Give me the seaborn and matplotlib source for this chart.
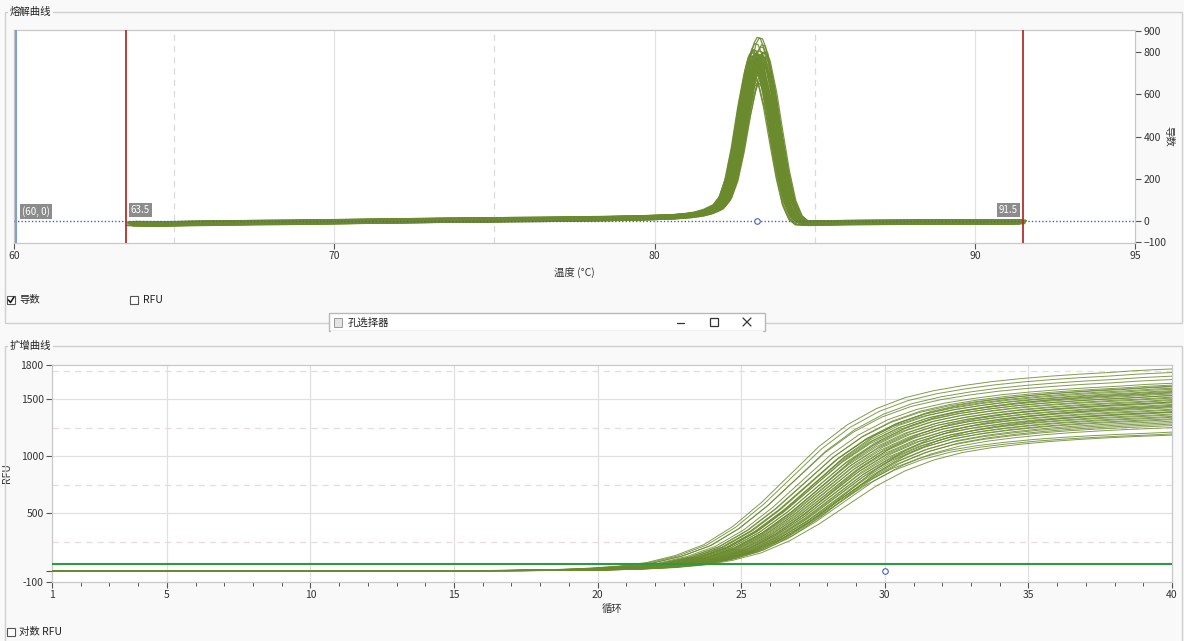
import numpy as np
import pandas as pd
import matplotlib.pyplot as plt
import seaborn as sns
from matplotlib.patches import Rectangle
from matplotlib.lines import Line2D

sns.set_theme(style='white')
plt.rcParams['font.family'] = ['Noto Sans CJK SC', 'DejaVu Sans']
plt.rcParams['font.size'] = 7.5

# 熔解曲线: 典型孔的导数曲线
melt_temp = [63.7, 64.5, 65.5, 66.5, 67.5, 68.5, 69.5, 70.5, 71.5, 72.5, 73.5, 74.5,
             75.5, 76.5, 77.5, 78.5, 79.5, 80.5, 81.0, 81.4, 81.7, 82.0, 82.2, 82.4,
             82.6, 82.8, 83.0, 83.1, 83.2, 83.3, 83.4, 83.6, 83.8, 84.0, 84.2, 84.4,
             84.6, 84.8, 85.2, 86.0, 87.0, 88.0, 89.0, 90.0, 91.0, 91.4]
melt_base = [-12, -14, -11, -9, -7, -6, -4, -2, 0, 2, 4, 5,
             7, 8, 10, 12, 15, 20, 26, 35, 48, 70, 110, 200,
             350, 540, 700, 760, 785, 780, 745, 600, 410, 230, 90, 18,
             -8, -10, -9, -7, -6, -5, -4, -4, -4, -4]

# 各孔峰高、Tm 偏移、基线偏移
melt_height = [880, 860, 845, 830, 820, 815, 810, 805, 800, 798, 795, 792,
               790, 788, 785, 782, 780, 778, 775, 772, 770, 768, 765, 762,
               760, 757, 755, 752, 750, 745, 740, 735, 730, 725, 720, 712,
               705, 698, 690, 680, 670, 660, 650, 800, 790, 780, 770, 760]
melt_shift = [0.0, 0.07, -0.07, 0.14, -0.14, 0.11, -0.11, 0.17, -0.17, 0.04, -0.04, 0.21,
              -0.21, 0.08, -0.08, 0.14, -0.14, 0.0, 0.06, -0.06, 0.18, -0.18, 0.1, -0.1,
              0.03, -0.03, 0.15, -0.15, 0.07, -0.07, 0.13, -0.13, 0.0, 0.2, -0.2, 0.08,
              -0.08, 0.04, -0.04, 0.14, -0.14, 0.07, 0.0, 0.17, -0.17, 0.11, -0.11, 0.01]
melt_offset = [-10, 8, -4, 5, -8, 10, 0, -6, 4, 9, -2, 6,
               -9, 1, 7, -5, 2, -10, 5, -1, 9, -7, 3, 0,
               -3, 6, -9, 2, 10, -6, 1, 7, -2, 5, -10, 3,
               0, -5, 8, -1, 6, -7, 2, -3, 7, -8, 1, 4]

# 扩增曲线: 归一化形状 (循环 -1..42)
amp_cycle = list(range(-1, 43))
amp_shape = [0] * 19 + [0.001, 0.003, 0.006, 0.012, 0.022, 0.04, 0.075, 0.13, 0.22,
                        0.34, 0.48, 0.62, 0.73, 0.81, 0.865, 0.9, 0.925, 0.945, 0.96,
                        0.972, 0.982, 0.99, 1.0, 1.007, 1.013]
amp_plateau = [1750, 1720, 1690, 1660, 1630, 1615, 1600, 1590, 1580, 1570, 1560, 1550,
               1540, 1530, 1525, 1515, 1505, 1495, 1485, 1475, 1465, 1455, 1445, 1435,
               1425, 1415, 1405, 1395, 1385, 1375, 1365, 1355, 1345, 1335, 1325, 1315,
               1300, 1290, 1275, 1260, 1215, 1200, 1195, 1400, 1450, 1560, 1610, 1480]
amp_shift = [-1.3, -1.2, -1.05, -1.1, -0.9, -0.75, -0.8, -0.6, -0.65, -0.5, -0.7, -0.45,
             -0.55, -0.35, -0.5, -0.25, -0.4, -0.15, -0.3, -0.1, -0.25, 0.0, -0.15, 0.05,
             -0.1, 0.15, 0.0, 0.2, 0.05, 0.3, 0.15, 0.35, 0.2, 0.4, 0.25, 0.5,
             0.35, 0.55, 0.4, 0.6, 0.2, 0.3, 0.7, 0.8, 0.75, -0.15, -0.4, 0.25]
threshold = 55

olive = '#6b8a2e'
W, H = 1184, 641

melt_rows = []
for i, (h, s, o) in enumerate(zip(melt_height, melt_shift, melt_offset)):
    for t, v in zip(melt_temp, melt_base):
        melt_rows.append((i, t + s, v * h / 785 + o))
melt_df = pd.DataFrame(melt_rows, columns=['well', 'temp', 'deriv'])

amp_rows = []
for i, (p, s) in enumerate(zip(amp_plateau, amp_shift)):
    for c, v in zip(amp_cycle, amp_shape):
        amp_rows.append((i, c + s, v * p))
amp_df = pd.DataFrame(amp_rows, columns=['well', 'cycle', 'rfu'])

fig = plt.figure(figsize=(W / 100, H / 100), dpi=100)
fig.patch.set_facecolor('#f9f9f9')


def box(x0, y0, x1, y1):
    return [x0 / W, 1 - y1 / H, (x1 - x0) / W, (y1 - y0) / H]


# ---------- 熔解曲线 ----------
ax1 = fig.add_axes(box(14, 30, 1135, 243))
ax1.set_facecolor('white')
for x in [70, 80, 90]:
    ax1.axvline(x, color='#e2e2e2', lw=0.9, zorder=0)
for x in [65, 75, 85]:
    ax1.axvline(x, color='#dadada', lw=0.9, ls=(0, (5, 4)), zorder=0)

sns.lineplot(data=melt_df, x='temp', y='deriv', units='well', estimator=None,
             color=olive, lw=0.9, alpha=0.9, legend=False, ax=ax1, zorder=3)

ax1.axhline(0, color='#4a5ec0', lw=1.0, ls=(0, (1, 1.5)), zorder=4)
ax1.axvline(60.05, color='#7f9fd8', lw=1.5, zorder=5)
for x in [63.5, 91.5]:
    ax1.axvline(x, color='#b3302c', lw=1.3, zorder=5)
ax1.plot([83.2], [0], marker='o', ms=4, mfc='white', mec='#4a5ec0', mew=0.8, zorder=6)

lbl = dict(color='white', fontsize=7, zorder=7,
           bbox=dict(boxstyle='square,pad=0.2', fc='#8c8c8c', ec='none'))
ax1.text(60.25, 20, '(60, 0)', ha='left', va='bottom', **lbl)
ax1.text(63.65, 28, '63.5', ha='left', va='bottom', **lbl)
ax1.text(91.35, 28, '91.5', ha='right', va='bottom', **lbl)

ax1.set_xlim(60, 95)
ax1.set_ylim(-104, 905)
ax1.set_xticks([60, 70, 80, 90, 95])
ax1.yaxis.tick_right()
ax1.yaxis.set_label_position('right')
ax1.set_yticks([900, 800, 600, 400, 200, 0, -100])
ax1.tick_params(axis='both', direction='out', length=4, width=0.8, color='#555555',
                labelsize=7.5, labelcolor='#333333', pad=2, bottom=True, right=True)
ax1.set_xlabel('温度 (°C)', fontsize=7.5, color='#333333', labelpad=4)
ax1.set_ylabel('导数', fontsize=7.5, color='#333333', rotation=270, labelpad=5)
for sp in ax1.spines.values():
    sp.set_color('#c8c8c8')
    sp.set_linewidth(0.9)

# ---------- 扩增曲线 ----------
ax2 = fig.add_axes(box(52, 365, 1172, 582))
ax2.set_facecolor('white')
for x in [5, 10, 15, 20, 25, 30, 35]:
    ax2.axvline(x, color='#e0e0e0', lw=0.9, zorder=0)
for y in [500, 1000, 1500]:
    ax2.axhline(y, color='#e0e0e0', lw=0.9, zorder=0)
for y in [250, 750, 1250, 1750]:
    ax2.axhline(y, color='#e6dcdc', lw=0.9, ls=(0, (5, 4)), zorder=0)

sns.lineplot(data=amp_df, x='cycle', y='rfu', units='well', estimator=None,
             color=olive, lw=0.7, alpha=0.85, legend=False, ax=ax2, zorder=3)
ax2.axhline(threshold, color='#2e9a40', lw=1.5, zorder=4)
ax2.plot([30], [0], marker='o', ms=4, mfc='white', mec='#4a5ec0', mew=0.8, zorder=6)

ax2.set_xlim(1, 40)
ax2.set_ylim(-100, 1800)
ax2.set_xticks([1, 5, 10, 15, 20, 25, 30, 35, 40])
ax2.set_xticks(range(1, 41), minor=True)
ax2.set_yticks([1800, 1500, 1000, 500, 0, -100])
ax2.set_yticklabels(['1800', '1500', '1000', '500', '', '-100'])
ax2.tick_params(axis='both', which='major', direction='out', length=4, width=0.8,
                color='#555555', labelsize=7.5, labelcolor='#333333', pad=2,
                bottom=True, left=True)
ax2.tick_params(axis='x', which='minor', direction='out', length=3, width=0.7,
                color='#555555', bottom=True)
ax2.set_xlabel('循环', fontsize=7.5, color='#333333', labelpad=3)
ax2.set_ylabel('RFU', fontsize=7.5, color='#333333', labelpad=6)
for sp in ax2.spines.values():
    sp.set_color('#c8c8c8')
    sp.set_linewidth(0.9)

# ---------- 界面外框 / 复选框 / 窗口 ----------
ov = fig.add_axes([0, 0, 1, 1], zorder=10)
ov.set_xlim(0, W)
ov.set_ylim(H, 0)
ov.axis('off')
ov.patch.set_alpha(0)

gb = dict(fill=False, ec='#cfcfcf', lw=1.0)
ov.add_patch(Rectangle((5, 12), 1177, 311, **gb))
ov.add_patch(Rectangle((5, 346), 1177, 300, **gb))
title = dict(fontsize=7.5, color='#222222', va='center', ha='left',
             bbox=dict(boxstyle='square,pad=0.15', fc='#f9f9f9', ec='none'))
ov.text(10, 12, '熔解曲线', **title)
ov.text(10, 346, '扩增曲线', **title)

cb = dict(fc='white', ec='#555555', lw=0.8)
ov.add_patch(Rectangle((7, 296), 8, 8, **cb))
ov.add_line(Line2D([8.5, 10.5, 14], [300, 302.5, 297], color='#111111', lw=1.1))
ov.text(19, 300, '导数', fontsize=7.5, color='#222222', va='center')
ov.add_patch(Rectangle((130, 296), 8, 8, **cb))
ov.text(143, 300, 'RFU', fontsize=7.5, color='#222222', va='center')
ov.add_patch(Rectangle((7, 628), 8, 8, **cb))
ov.text(19, 632, '对数 RFU', fontsize=7.5, color='#222222', va='center')

ov.add_patch(Rectangle((329, 313), 436, 18, fc='white', ec='#b8b8b8', lw=1.0))
ov.add_patch(Rectangle((331, 331), 432, 6, fc='#f9f9f9', ec='none'))
ov.add_patch(Rectangle((334, 318), 8, 9, fc='#e4e4e4', ec='#9a9a9a', lw=0.7))
ov.text(348, 322.5, '孔选择器', fontsize=7.5, color='#222222', va='center')
ov.add_line(Line2D([677, 684], [323, 323], color='#333333', lw=0.9))
ov.add_patch(Rectangle((710, 318), 8, 8, fill=False, ec='#333333', lw=0.9))
ov.add_line(Line2D([743, 751], [318, 326], color='#333333', lw=0.9))
ov.add_line(Line2D([743, 751], [326, 318], color='#333333', lw=0.9))

fig.savefig('out.png', dpi=100, facecolor=fig.get_facecolor())
